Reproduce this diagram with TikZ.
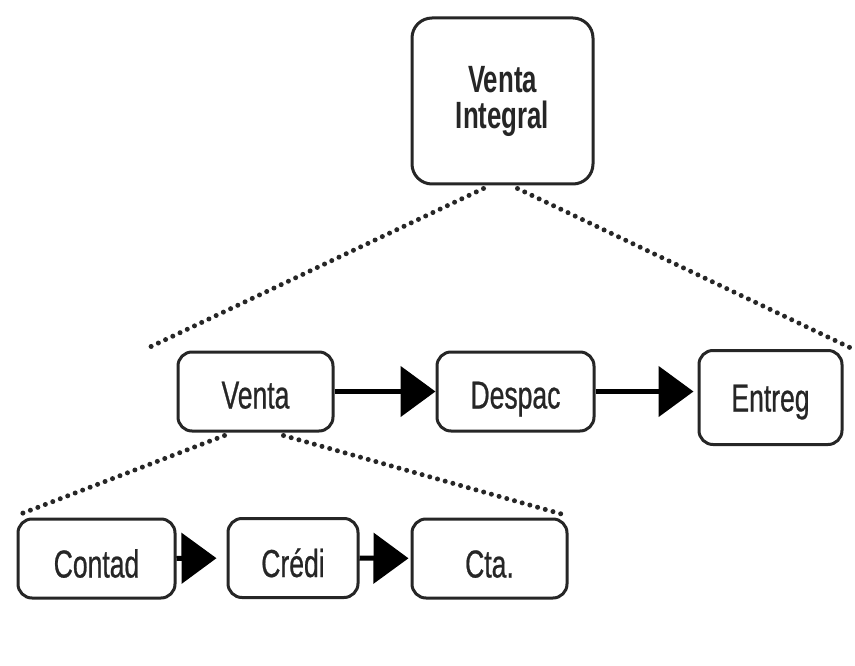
\documentclass[tikz,border=0pt]{standalone}
\usepackage{fontspec}
\newfontfamily\boxfont[FakeStretch=0.68, FakeBold=0.6]{Liberation Sans}
\newfontfamily\topfont[FakeStretch=0.68]{Liberation Sans Bold}
\usetikzlibrary{arrows.meta,calc}
\definecolor{ink}{HTML}{262626}
\begin{document}
\begin{tikzpicture}[x=1pt,y=-1pt,
  box/.style={draw=ink, line width=3pt, rounded corners=14pt, fill=white, inner sep=0pt, text=ink,
    font=\boxfont\fontsize{39}{40}\selectfont},
  midrow/.style={box, text height=34pt, text depth=0pt, minimum height=79pt},
  lowrow/.style={box, text height=38pt, text depth=0pt, minimum height=79pt},
  flow/.style={line width=5pt, draw=black, -{Triangle[length=35pt,width=50pt]}},
  dotline/.style={draw=ink, line width=5pt, line cap=round, dash pattern=on 0pt off 8pt}]
\fill[white] (0,0) rectangle (855,666);
\useasboundingbox (0,0) rectangle (855,666);

\node[box, rounded corners=20pt, minimum width=181pt, minimum height=166pt, align=center,
  font=\topfont\fontsize{38}{36}\selectfont] (top) at (502.5,101) {Venta\\Integral};

\node[midrow, minimum width=155pt] (venta) at (255.5,391.5) {Venta};
\node[midrow, minimum width=157pt] (despac) at (515.5,391.5) {Despac};
\node[box, minimum width=143pt, minimum height=94pt, text height=28pt, text depth=0pt] (entreg) at (770.5,397.5) {Entreg};

\node[lowrow, minimum width=157pt] (contad) at (96.5,558.5) {Contad\hspace{14pt}};
\node[lowrow, minimum width=130pt] (credi) at (293,558) {Crédi};
\node[lowrow, minimum width=155pt] (cta) at (489.5,558.5) {Cta.\hspace{50pt}};

\draw[flow] (venta) -- (despac);
\draw[flow, shorten >=4pt] (despac.east) -- (despac.east -| entreg.west);
\draw[flow, shorten >=10pt] (contad) -- (credi);
\draw[flow, shorten >=2pt] (credi) -- (cta);

\coordinate (tlend) at (150,347);
\coordinate (trend) at (855,350);
\coordinate (blend) at (18,515);
\coordinate (brend) at (565,515);

\draw[dotline] ([xshift=-19pt,yshift=-3pt]top.south) -- (tlend);
\draw[dotline] ([xshift=15pt,yshift=-3pt]top.south) -- (trend);
\draw[dotline] ([xshift=-31pt,yshift=-3pt]venta.south) -- (blend);
\draw[dotline] ([xshift=28pt,yshift=-3pt]venta.south) -- (brend);
\end{tikzpicture}
\end{document}
